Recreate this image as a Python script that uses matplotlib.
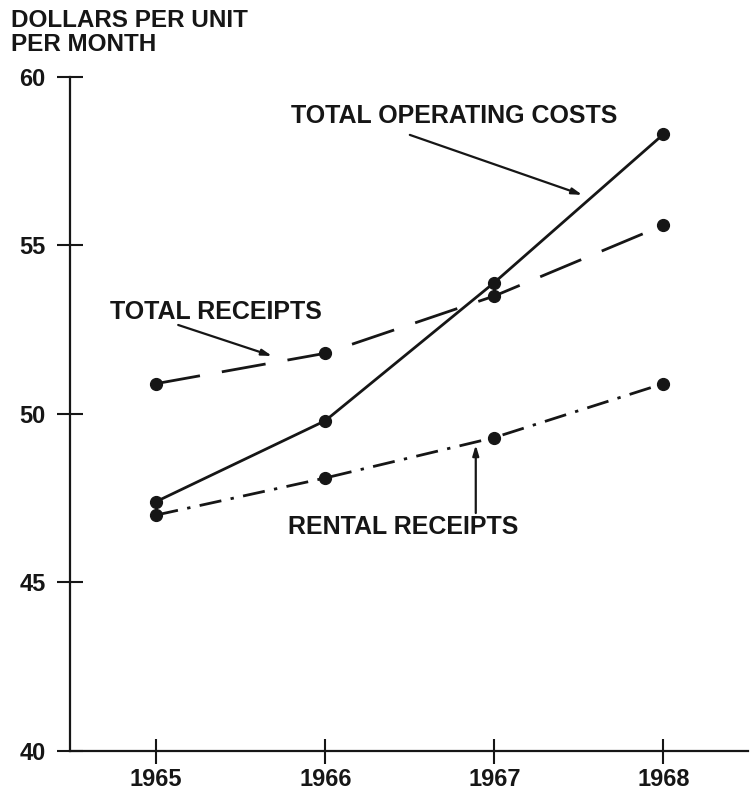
"""
plot.py — Chi phí vận hành và doanh thu theo năm (1965-1968)
"""

import matplotlib
matplotlib.use("Agg")
import matplotlib.pyplot as plt

# ─────────────────────────────────────────────────────────────
# Dữ liệu
# ─────────────────────────────────────────────────────────────
years = [1965, 1966, 1967, 1968]
operating_costs = [47.4, 49.8, 53.9, 58.3]
total_receipts = [50.9, 51.8, 53.5, 55.6]
rental_receipts = [47.0, 48.1, 49.3, 50.9]
y_ticks = [40, 45, 50, 55, 60]

INK = "#161616"
plt.rcParams["font.family"] = ["Liberation Sans", "DejaVu Sans"]
plt.rcParams["font.weight"] = "bold"

# ─────────────────────────────────────────────────────────────
# Figure
# ─────────────────────────────────────────────────────────────
fig = plt.figure(figsize=(7.55, 7.93), dpi=100)
ax = fig.add_axes([0.0927, 0.053, 0.898, 0.85])

line_kw = dict(color=INK, lw=2.0, marker="o", markersize=8.5,
               markerfacecolor=INK, markeredgecolor=INK)
ax.plot(years, operating_costs, linestyle="-", **line_kw)
ax.plot(years, total_receipts, linestyle=(0, (16, 8)), **line_kw)
ax.plot(years, rental_receipts, linestyle=(0, (8, 3.4, 1.2, 3.4)), **line_kw)

ax.set_xlim(1964.49, 1968.5)
ax.set_ylim(40, 60)
ax.set_xticks(years)
ax.set_yticks(y_ticks)
ax.tick_params(axis="y", direction="inout", length=19, width=1.5,
               color=INK, labelsize=17, pad=8, labelcolor=INK)
ax.tick_params(axis="x", direction="inout", length=18, width=1.5,
               color=INK, labelsize=17, pad=3, labelcolor=INK)

for side in ["top", "right"]:
    ax.spines[side].set_visible(False)
for side in ["left", "bottom"]:
    ax.spines[side].set_color(INK)
    ax.spines[side].set_linewidth(1.6)

fig.text(0.014, 1 - 9 / 793, "DOLLARS PER UNIT\nPER MONTH",
         ha="left", va="top", fontsize=17.5, fontweight="bold",
         linespacing=1.08, color=INK)

# ─────────────────────────────────────────────────────────────
# Chú thích
# ─────────────────────────────────────────────────────────────
arrow_kw = dict(arrowstyle="-|>,head_length=0.6,head_width=0.18",
                color=INK, lw=1.6, shrinkA=0, shrinkB=0)
txt_kw = dict(fontsize=18, fontweight="bold", color=INK,
              ha="center", va="center")

ax.annotate("", xy=(1967.52, 56.5), xytext=(1966.5, 58.28),
            arrowprops=arrow_kw)
ax.text(1966.76, 58.84, "TOTAL OPERATING COSTS", **txt_kw)

ax.annotate("", xy=(1965.685, 51.72), xytext=(1965.13, 52.64),
            arrowprops=arrow_kw)
ax.text(1965.354, 53.03, "TOTAL RECEIPTS", **txt_kw)

ax.annotate("", xy=(1966.89, 49.08), xytext=(1966.89, 47.06),
            arrowprops=arrow_kw)
ax.text(1966.46, 46.65, "RENTAL RECEIPTS", **txt_kw)

plt.savefig("out.png", dpi=100)
plt.close()
